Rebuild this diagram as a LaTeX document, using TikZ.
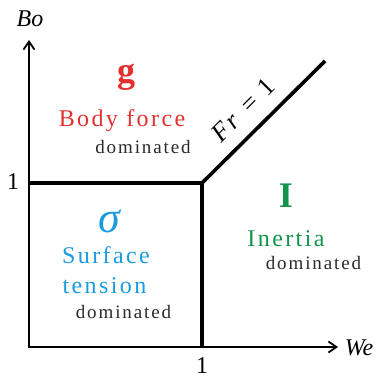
\documentclass[tikz,border=0pt]{standalone}
\usepackage{fontspec}
\setmainfont{Liberation Serif}
\newfontfamily\spaced[LetterSpace=10]{Liberation Serif}
\usetikzlibrary{arrows.meta,positioning}
\definecolor{forcered}{HTML}{E2302E}
\definecolor{tensionblue}{HTML}{1A9BE0}
\definecolor{inertiagreen}{HTML}{10954A}
\definecolor{darktext}{HTML}{2A2A2A}
\tikzset{
  axis/.style={line width=1.8pt, arrows={Straight Barb[length=8pt,width=11pt]-Straight Barb[length=8pt,width=11pt]}},
  boundary/.style={line width=3.6pt, line join=miter},
  regime/.style={anchor=base, font=\fontsize{24}{28}\selectfont\spaced},
  symb/.style={anchor=base, font=\fontsize{36}{40}\selectfont\bfseries},
  dom/.style={anchor=base, text=darktext, font=\fontsize{19}{22}\selectfont\spaced},
  axlabel/.style={anchor=base, font=\fontsize{24}{28}\selectfont}
}

\begin{document}
\begin{tikzpicture}[x=1pt, y=-1pt]
  \useasboundingbox (0,0) rectangle (375,377);
  % axes and regime boundaries
  \coordinate (O) at (29,347);
  \coordinate (ytip) at (29,40);
  \coordinate (xtip) at (338,347);
  \coordinate (ymark) at (29,183);
  \coordinate (xmark) at (202,347);
  \coordinate (P) at (202,183);
  \coordinate (frend) at (325,61);
  \draw[axis] (ytip) -- (O) -- (xtip);
  \draw[boundary] (ymark) -- (P) -- (xmark);
  \draw[boundary] (P) -- (frend);

  \node[axlabel] (bo) at (30,27) {\itshape Bo};
  \node[axlabel] (we) at (359,355) {\itshape We};
  \node[axlabel] (yone) at (13,189) {1};
  \node[axlabel] (xone) at (202,373) {1};
  \node[anchor=center, rotate=45, font=\fontsize{26}{30}\selectfont\spaced] (fr) at (243,110) {\textit{Fr} = 1};

  % body force region
  \node[symb, text=forcered] (g) at (126,83) {g};
  \node[regime, text=forcered] (body) at (122,127) {Body force};
  \node[dom] (bodydom) at (143,153) {dominated};

  % surface tension region
  \node[anchor=base, text=tensionblue, font=\fontsize{44}{48}\selectfont\itshape] (sigma) at (109,232) {σ};
  \node[regime, text=tensionblue] (surf) at (106,263) {Surface};
  \node[regime, text=tensionblue] (tens) at (104.5,293) {tension};
  \node[dom] (surfdom) at (123.5,318) {dominated};

  % inertia region
  \node[symb, text=inertiagreen] (iner) at (286,207) {I};
  \node[regime, text=inertiagreen] (inertia) at (286,246) {Inertia};
  \node[dom] (inerdom) at (313.5,269) {dominated};
\end{tikzpicture}
\end{document}
